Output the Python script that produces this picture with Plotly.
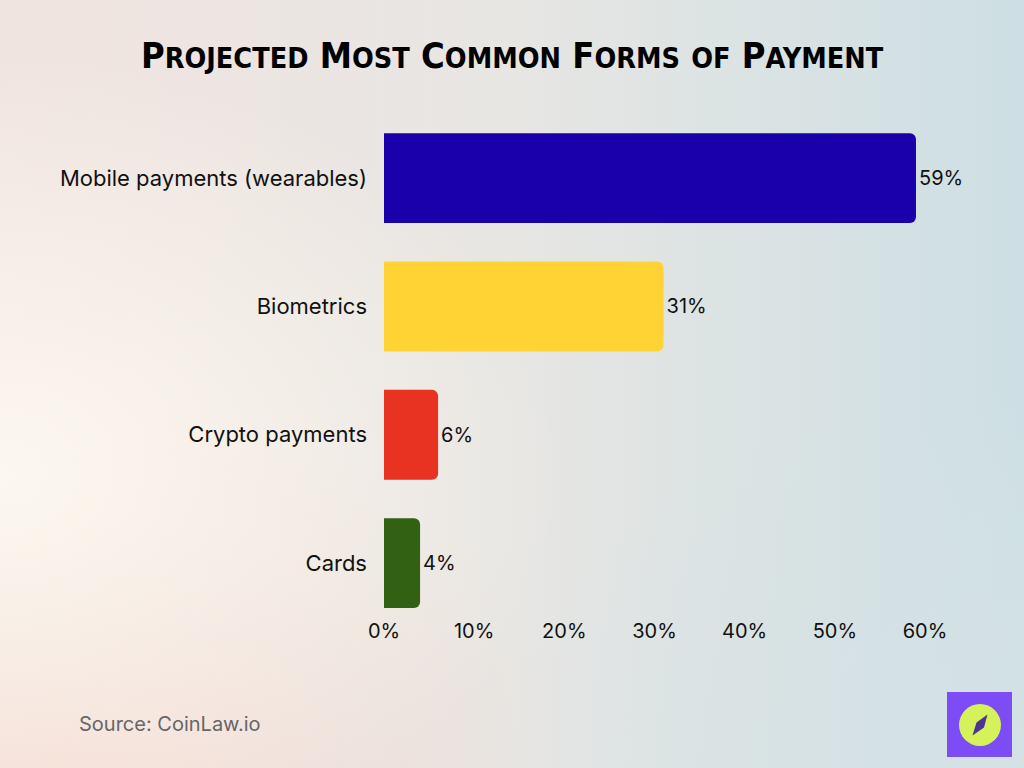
import plotly.graph_objects as go
import urllib.parse

categories = ["Mobile payments (wearables)", "Biometrics", "Crypto payments", "Cards"]
values = [59, 31, 6, 4]
value_labels = ["59%", "31%", "6%", "4%"]
bar_colors = ["#1a00aa", "#ffd333", "#e83222", "#336114"]
tick_vals = [0, 10, 20, 30, 40, 50, 60]
tick_text = ["0%", "10%", "20%", "30%", "40%", "50%", "60%"]

W, H = 1024, 768

svg = f"""<svg xmlns='http://www.w3.org/2000/svg' width='{W}' height='{H}' preserveAspectRatio='none'>
<defs>
<linearGradient id='g1' x1='0' y1='0' x2='1' y2='0'>
<stop offset='0' stop-color='#f1e4e0'/>
<stop offset='0.5' stop-color='#e7e6e3'/>
<stop offset='1' stop-color='#cddfe4'/>
</linearGradient>
<radialGradient id='g2' cx='0' cy='0.62' r='0.55'>
<stop offset='0' stop-color='#fcf8ef' stop-opacity='1'/>
<stop offset='1' stop-color='#fcf8ef' stop-opacity='0'/>
</radialGradient>
<radialGradient id='g3' cx='0.05' cy='1' r='0.5'>
<stop offset='0' stop-color='#f4d9d0' stop-opacity='0.9'/>
<stop offset='1' stop-color='#f4d9d0' stop-opacity='0'/>
</radialGradient>
<radialGradient id='g4' cx='1' cy='1' r='0.5'>
<stop offset='0' stop-color='#d5e2e5' stop-opacity='0.9'/>
<stop offset='1' stop-color='#d5e2e5' stop-opacity='0'/>
</radialGradient>
</defs>
<rect width='{W}' height='{H}' fill='url(#g1)'/>
<rect width='{W}' height='{H}' fill='url(#g3)'/>
<rect width='{W}' height='{H}' fill='url(#g4)'/>
<rect width='{W}' height='{H}' fill='url(#g2)'/>
</svg>"""
bg_uri = "data:image/svg+xml;charset=utf-8," + urllib.parse.quote(svg)

fig = go.Figure(
    go.Bar(
        x=values,
        y=categories,
        orientation="h",
        marker=dict(color=bar_colors, line=dict(width=0)),
        width=0.7,
        text=value_labels,
        textposition="outside",
        textfont=dict(family="Inter, Lato, sans-serif", size=20, color="#111111"),
        cliponaxis=False,
        hoverinfo="skip",
    )
)

def small_caps(s, big=36, small=28.5):
    out = []
    for word in s.split(" "):
        parts = []
        for ch in word:
            if ch.isupper():
                parts.append(f"<span style='font-size:{big}px'>{ch}</span>")
            else:
                parts.append(f"<span style='font-size:{small}px'>{ch.upper()}</span>")
        out.append("".join(parts))
    return " ".join(out)

title_text = small_caps("Projected Most Common Forms of Payment")

y_top_px, y_bot_px = 114, 608

fig.update_layout(
    width=W,
    height=H,
    autosize=False,
    margin=dict(l=0, r=0, t=0, b=0, pad=0, autoexpand=False),
    paper_bgcolor="#e9e7e4",
    plot_bgcolor="rgba(0,0,0,0)",
    showlegend=False,
    barcornerradius=6,
    images=[dict(source=bg_uri, xref="paper", yref="paper", x=0, y=1,
                 sizex=1, sizey=1, sizing="stretch", layer="below", xanchor="left", yanchor="top")],
    xaxis=dict(
        domain=[384 / W, 925 / W],
        range=[0, 60],
        tickvals=tick_vals,
        ticktext=tick_text,
        showgrid=False,
        zeroline=False,
        showline=False,
        ticks="",
        automargin=False,
        tickfont=dict(family="Inter, Lato, sans-serif", size=20, color="#111111"),
        ticklabelstandoff=9,
    ),
    yaxis=dict(
        domain=[1 - y_bot_px / H, 1 - y_top_px / H],
        range=[3.35, -0.5],
        showgrid=False,
        zeroline=False,
        showline=False,
        ticks="",
        automargin=False,
        tickfont=dict(family="Inter, Lato, sans-serif", size=22, color="#111111"),
        ticklabelstandoff=16,
    ),
    annotations=[
        dict(text=title_text, x=0.5, y=1 - 55 / H, xref="paper", yref="paper",
             xanchor="center", yanchor="middle", showarrow=False,
             font=dict(family="DejaVu Sans Condensed, sans-serif",
                       size=36, color="#000000", weight="bold")),
        dict(text="Source: CoinLaw.io", x=77 / W, y=1 - 724 / H, xref="paper", yref="paper",
             xanchor="left", yanchor="middle", showarrow=False,
             font=dict(family="Inter, Lato, sans-serif", size=20, color="#666666")),
    ],
    shapes=[
        dict(type="rect", xref="paper", yref="paper", x0=947 / W, x1=1012 / W,
             y0=1 - 757 / H, y1=1 - 692 / H, fillcolor="#7c4cf5", line=dict(width=0)),
        dict(type="circle", xref="paper", yref="paper", x0=959 / W, x1=1001 / W,
             y0=1 - 746 / H, y1=1 - 704 / H, fillcolor="#d5f25b", line=dict(width=0)),
        dict(type="path", xref="paper", yref="paper",
             path=(f"M {987.5/W} {1-714.5/H} L {976.5/W} {1-722.5/H} "
                   f"L {972.5/W} {1-735.5/H} L {984/W} {1-727.5/H} Z"),
             fillcolor="#4a3596", line=dict(width=0)),
    ],
)

fig.write_html("out.html", config={"displayModeBar": False},
               post_script="document.body.style.margin='0';document.body.style.overflow='hidden';")
